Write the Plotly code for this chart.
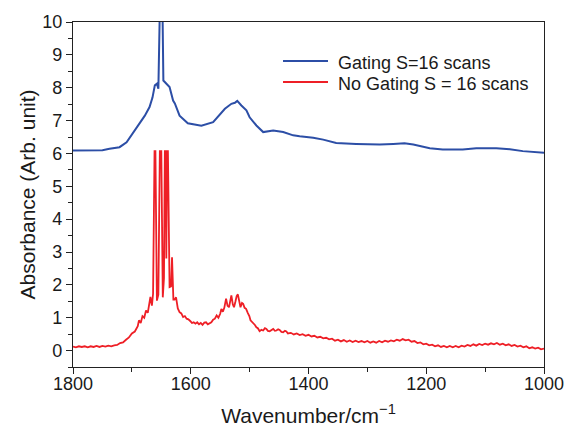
import plotly.graph_objects as go

# ---- data ----
blue_name = "Gating S=16 scans"
red_name = "No Gating S = 16 scans"

blue_wn = [1800, 1772, 1750, 1738, 1721, 1709, 1699, 1687, 1678, 1670, 1665, 1661,
           1657.5, 1655, 1652.5, 1650, 1648, 1646.5, 1641.5, 1636, 1630, 1627, 1619,
           1605, 1582, 1562, 1542, 1531, 1525, 1521, 1514, 1505.5, 1500, 1488.5, 1477,
           1471.5, 1460, 1443, 1426, 1415, 1392, 1375, 1353, 1319, 1279, 1256, 1237,
           1222, 1194, 1172, 1138, 1115, 1081, 1058, 1036, 1000]
blue_abs = [6.09, 6.09, 6.10, 6.14, 6.19, 6.34, 6.60, 6.91, 7.15, 7.41, 7.70, 8.07,
            8.12, 7.97, 10.4, 10.2, 10.4, 8.22, 8.12, 8.02, 7.61, 7.52, 7.15,
            6.92, 6.84, 6.95, 7.36, 7.51, 7.54, 7.60, 7.46, 7.31, 7.10, 6.85, 6.65,
            6.67, 6.70, 6.65, 6.55, 6.52, 6.48, 6.42, 6.32, 6.29, 6.27, 6.29, 6.31,
            6.27, 6.16, 6.12, 6.12, 6.16, 6.16, 6.13, 6.07, 6.02]

red_wn = [1800, 1795, 1790, 1785, 1780, 1775, 1770, 1765, 1760, 1755, 1750, 1745,
          1740, 1735, 1730, 1725, 1720, 1715, 1710, 1705, 1700, 1695, 1690, 1688,
          1685, 1682, 1679, 1676, 1673, 1671, 1668.5, 1666, 1664, 1661.5, 1660,
          1657.5, 1655, 1652.5, 1650, 1647.5, 1645.5, 1644, 1642.5, 1641.5, 1640.3,
          1638.8, 1636, 1633.5, 1631.8, 1629.5, 1627.5, 1625, 1622, 1619, 1616, 1613,
          1610, 1607, 1604, 1601, 1598, 1595, 1592, 1589, 1586, 1583, 1580, 1577,
          1574, 1571, 1568, 1565, 1562, 1559, 1556, 1553, 1550, 1548, 1545.5, 1543,
          1540, 1537.5, 1535, 1533, 1531, 1528.5, 1526.5, 1524, 1522, 1520, 1517.5,
          1515.5, 1513, 1511, 1508.5, 1506, 1503, 1500.5, 1498.5, 1496, 1494, 1491,
          1488.5, 1486, 1483, 1480, 1477, 1474, 1471.5, 1469, 1466, 1463, 1460, 1457,
          1454.5, 1451.5, 1449, 1446, 1443, 1440, 1437.5, 1435,
          1430, 1425, 1420, 1415, 1410, 1405, 1400, 1395, 1390, 1385, 1380, 1375,
          1370, 1365, 1360, 1355, 1350, 1345, 1340, 1335, 1330, 1325, 1320, 1315,
          1310, 1305, 1300, 1295, 1290, 1285, 1280, 1275, 1270, 1265, 1260, 1255,
          1250, 1245, 1240, 1235, 1230, 1225, 1220, 1215, 1210, 1205, 1200, 1195,
          1190, 1185, 1180, 1175, 1170, 1165, 1160, 1155, 1150, 1145, 1140, 1135,
          1130, 1125, 1120, 1115, 1110, 1105, 1100, 1095, 1090, 1085, 1080, 1075,
          1070, 1065, 1060, 1055, 1050, 1045, 1040, 1035, 1030, 1025, 1020, 1015,
          1010, 1005, 1000]
red_abs = [0.12, 0.10, 0.13, 0.11, 0.13, 0.10, 0.13, 0.11, 0.14, 0.11, 0.14, 0.12,
           0.15, 0.13, 0.16, 0.17, 0.23, 0.25, 0.33, 0.40, 0.52, 0.58, 0.74, 0.92,
           0.84, 1.05, 1.00, 1.22, 1.15, 1.42, 1.63, 1.37, 1.73, 6.07, 6.07,
           1.52, 1.70, 6.07, 6.07, 1.62, 2.20, 6.07, 6.07, 2.80, 6.07,
           6.07, 1.93, 1.95, 2.84, 1.55, 1.55, 1.62, 1.28, 1.17, 1.13, 1.02,
           1.05, 0.97, 0.95, 0.90, 0.84, 0.86, 0.82, 0.86, 0.80, 0.84, 0.78, 0.85,
           0.86, 0.80, 0.84, 0.86, 0.94, 0.97, 1.07, 1.00, 1.12, 1.27, 1.18, 1.30,
           1.58, 1.36, 1.32, 1.50, 1.68, 1.40, 1.32, 1.50, 1.66, 1.71, 1.45,
           1.32, 1.45, 1.42, 1.30, 1.27, 1.14, 1.05, 0.92, 0.88, 0.83, 0.78,
           0.71, 0.68, 0.59, 0.63, 0.61, 0.68, 0.66, 0.60, 0.59, 0.64, 0.66, 0.60,
           0.61, 0.65, 0.63, 0.57, 0.56, 0.60, 0.58, 0.52,
           0.54, 0.49, 0.52, 0.47, 0.50, 0.45, 0.48, 0.43, 0.45, 0.40, 0.42, 0.37,
           0.39, 0.34, 0.36, 0.30, 0.33, 0.28, 0.32, 0.27, 0.31, 0.26, 0.30, 0.26,
           0.29, 0.25, 0.29, 0.24, 0.28, 0.24, 0.29, 0.25, 0.30, 0.27, 0.31, 0.28,
           0.33, 0.30, 0.35, 0.31, 0.33, 0.27, 0.29, 0.23, 0.25, 0.19, 0.21, 0.16,
           0.18, 0.13, 0.16, 0.11, 0.14, 0.10, 0.14, 0.10, 0.14, 0.10, 0.15, 0.12,
           0.17, 0.14, 0.19, 0.15, 0.20, 0.17, 0.21, 0.18, 0.22, 0.19, 0.23, 0.18,
           0.21, 0.16, 0.19, 0.14, 0.17, 0.12, 0.15, 0.10, 0.13, 0.07, 0.10, 0.06,
           0.09, 0.04, 0.06]

x_ticks = [1800, 1600, 1400, 1200, 1000]
y_ticks = list(range(0, 11))

FONT = "Liberation Sans, Arial, Helvetica, sans-serif"
TXT = "#1a1a1a"
BLUE = "#2c4ea6"
RED = "#ee1f26"

fig = go.Figure()
fig.add_trace(go.Scatter(x=blue_wn, y=blue_abs, mode="lines", name=blue_name,
                         line=dict(color=BLUE, width=2), showlegend=False))
fig.add_trace(go.Scatter(x=red_wn, y=red_abs, mode="lines", name=red_name,
                         line=dict(color=RED, width=1.8), showlegend=False))

# legend drawn in paper coordinates (sample line + label)
legend_rows = [(blue_name, BLUE, 0.887), (red_name, RED, 0.826)]
for name, color, yp in legend_rows:
    fig.add_shape(type="line", xref="paper", yref="paper",
                  x0=0.4459, x1=0.5414, y0=yp, y1=yp,
                  line=dict(color=color, width=2))
    fig.add_annotation(xref="paper", yref="paper", x=0.558, y=yp - 0.007,
                       xanchor="left", yanchor="middle", showarrow=False,
                       text=name, font=dict(family=FONT, size=18, color=TXT))

axis_common = dict(showline=True, linecolor="#222222", linewidth=1.3, mirror=True,
                   ticks="outside", tickcolor="#222222", tickwidth=1.2, ticklen=6,
                   showgrid=False, zeroline=False, automargin=False,
                   tickfont=dict(family=FONT, size=18, color=TXT))

# the page adds an 8px body margin, so the figure is sized to fit the window
fig.update_layout(
    width=565, height=419,
    margin=dict(l=65, r=29, t=14, b=60),
    paper_bgcolor="white", plot_bgcolor="white",
    font=dict(family=FONT, color=TXT),
    showlegend=False,
    xaxis=dict(range=[1800, 1000], tickvals=x_ticks, ticklabelstandoff=-6,
               minor=dict(dtick=100, ticks="outside", ticklen=4, tickcolor="#222222", tickwidth=1),
               title=dict(text="Wavenumber/cm<sup>−1</sup>", font=dict(family=FONT, size=21, color=TXT),
                          standoff=39),
               **axis_common),
    yaxis=dict(range=[-0.5, 10], tickvals=y_ticks,
               minor=dict(dtick=0.5, ticks="outside", ticklen=4, tickcolor="#222222", tickwidth=1),
               title=dict(text="Absorbance (Arb. unit)", font=dict(family=FONT, size=21, color=TXT),
                          standoff=0),
               **axis_common),
)

fig.write_html("out.html")
